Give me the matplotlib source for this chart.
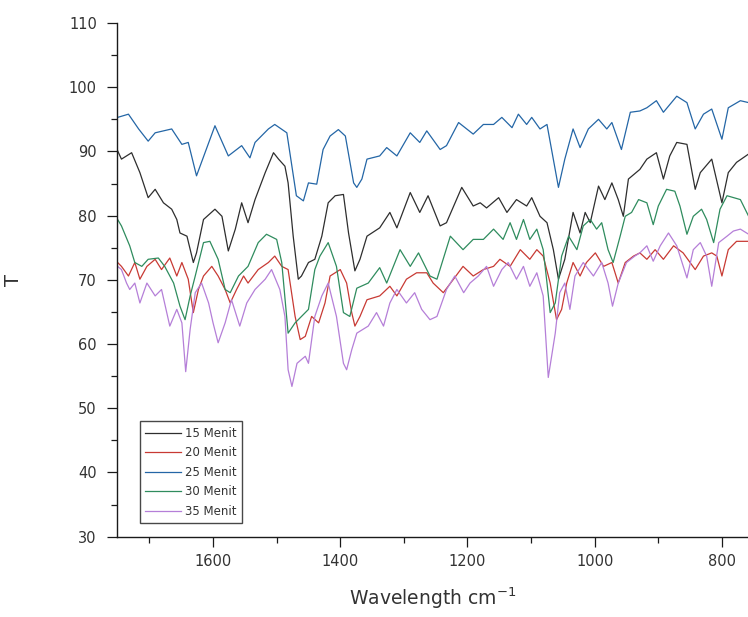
import matplotlib
matplotlib.use("Agg")
import matplotlib.pyplot as plt
from matplotlib.ticker import MultipleLocator

# FTIR transmittance spectra after different treatment times (minutes)
wn_15 = [1750, 1744, 1728, 1715, 1702, 1691, 1678, 1665, 1657, 1652, 1641, 1631, 1626, 1615,
         1597, 1586, 1576, 1565, 1555, 1545, 1534, 1518, 1505, 1497, 1487, 1482, 1474, 1466,
         1461, 1450, 1440, 1429, 1419, 1408, 1395, 1387, 1377, 1369, 1358, 1338, 1322, 1311,
         1290, 1275, 1262, 1243, 1233, 1209, 1191, 1180, 1170, 1151, 1138, 1123, 1107, 1099,
         1086, 1075, 1065, 1057, 1047, 1034, 1023, 1015, 1007, 994, 984, 973, 963, 955, 947,
         929, 918, 903, 892, 882, 871, 855, 842, 834, 816, 800, 790, 777, 758]
t_15 = [90.1, 88.8, 89.8, 86.7, 82.8, 84.1, 82.0, 81.0, 79.4, 77.3, 76.8, 72.7, 74.2, 79.4,
        81.0, 79.9, 74.5, 77.9, 82.0, 78.9, 82.5, 86.7, 89.8, 88.8, 87.7, 85.1, 76.8, 70.1,
        70.6, 72.7, 73.2, 76.8, 82.0, 83.1, 83.3, 77.3, 71.4, 73.2, 76.8, 78.1, 80.5, 78.1,
        83.6, 80.5, 83.1, 78.4, 78.9, 84.4, 81.5, 82.0, 81.2, 82.8, 80.5, 82.5, 81.5, 82.8,
        79.9, 78.9, 74.7, 70.1, 73.2, 80.5, 77.3, 80.5, 78.9, 84.6, 82.5, 85.1, 82.5, 79.9, 85.7,
        87.2, 88.8, 89.8, 85.7, 89.3, 91.4, 91.1, 84.1, 86.7, 88.8, 82.0, 86.7, 88.3, 89.6]

wn_20 = [1750, 1744, 1733, 1723, 1715, 1704, 1691, 1681, 1668, 1657, 1649, 1639, 1631, 1623,
         1615, 1602, 1592, 1581, 1573, 1563, 1552, 1545, 1529, 1513, 1503, 1492, 1482, 1471,
         1463, 1455, 1445, 1434, 1424, 1416, 1400, 1390, 1382, 1377, 1369, 1358, 1338, 1322,
         1311, 1296, 1280, 1264, 1254, 1238, 1222, 1207, 1191, 1175, 1159, 1149, 1133, 1117,
         1102, 1091, 1081, 1070, 1060, 1052, 1044, 1034, 1023, 1013, 999, 986, 973, 963, 952,
         939, 929, 918, 905, 892, 876, 861, 842, 829, 816, 808, 800, 790, 777, 758]
t_20 = [72.7, 72.1, 70.6, 72.7, 70.1, 72.1, 73.2, 71.6, 73.4, 70.6, 72.7, 70.1, 64.9, 68.5,
        70.6, 72.1, 70.6, 68.5, 66.4, 68.5, 70.6, 69.5, 71.6, 72.7, 73.7, 72.1, 71.6, 64.3,
        60.7, 61.2, 64.3, 63.3, 66.4, 70.6, 71.6, 69.5, 64.9, 62.8, 64.3, 66.9, 67.5, 69.0,
        67.5, 70.1, 71.1, 71.1, 69.5, 68.0, 70.1, 72.1, 70.6, 71.6, 72.1, 73.2, 72.1, 74.7,
        73.2, 74.7, 73.7, 69.5, 63.8, 65.4, 69.5, 72.7, 70.6, 72.7, 74.2, 72.1, 72.7, 69.5, 72.7,
        73.7, 74.2, 73.2, 74.7, 73.2, 75.3, 74.2, 71.6, 73.7, 74.2, 73.7, 70.6, 74.7, 76.0, 76.0]

wn_25 = [1750, 1733, 1717, 1702, 1691, 1665, 1649, 1639, 1626, 1597, 1576, 1555, 1542, 1534,
         1513, 1503, 1484, 1469, 1458, 1450, 1437, 1427, 1416, 1403, 1392, 1379, 1374, 1366,
         1358, 1338, 1327, 1311, 1290, 1275, 1264, 1243, 1233, 1214, 1191, 1175, 1159, 1146,
         1130, 1120, 1107, 1099, 1086, 1075, 1057, 1047, 1034, 1023, 1010, 994, 981, 973, 958,
         944, 929, 918, 903, 892, 871, 855, 842, 829, 816, 800, 790, 771, 758]
t_25 = [95.3, 95.8, 93.5, 91.6, 92.9, 93.5, 91.1, 91.4, 86.2, 94.0, 89.3, 90.9, 89.0, 91.4,
        93.5, 94.2, 92.9, 83.1, 82.3, 85.1, 84.9, 90.3, 92.4, 93.4, 92.4, 85.1, 84.4, 85.7,
        88.8, 89.3, 90.6, 89.3, 92.9, 91.4, 93.2, 90.3, 90.9, 94.5, 92.7, 94.2, 94.2, 95.3,
        93.7, 95.8, 94.2, 95.3, 93.5, 94.2, 84.4, 88.8, 93.5, 90.6, 93.5, 95.0, 93.5, 94.5, 90.3,
        96.1, 96.3, 96.8, 97.9, 96.1, 98.6, 97.6, 93.5, 95.8, 96.6, 91.9, 96.8, 97.9, 97.6]

wn_30 = [1750, 1744, 1731, 1723, 1712, 1702, 1686, 1676, 1662, 1652, 1644, 1636, 1628, 1615,
         1605, 1592, 1581, 1573, 1560, 1545, 1529, 1516, 1500, 1492, 1482, 1471, 1461, 1450,
         1440, 1432, 1419, 1406, 1395, 1385, 1374, 1356, 1338, 1327, 1306, 1290, 1277, 1259,
         1248, 1227, 1207, 1191, 1175, 1159, 1144, 1133, 1123, 1112, 1102, 1091, 1081, 1075,
         1070, 1062, 1052, 1041, 1028, 1018, 1007, 997, 989, 979, 971, 960, 952, 942, 931, 918,
         908, 900, 887, 874, 866, 855, 845, 832, 824, 813, 803, 792, 771, 758]
t_30 = [79.4, 78.4, 75.3, 72.7, 72.1, 73.2, 73.4, 72.1, 69.5, 65.9, 63.8, 67.5, 70.6, 75.8,
        76.0, 73.2, 68.5, 68.0, 70.6, 72.1, 75.8, 77.1, 76.3, 72.7, 61.7, 63.3, 64.3, 65.4,
        71.6, 73.7, 75.8, 72.1, 64.9, 64.3, 68.7, 69.5, 71.9, 69.5, 74.7, 72.1, 74.2, 70.6,
        70.1, 76.8, 74.7, 76.3, 76.3, 77.9, 76.3, 78.9, 76.3, 79.4, 76.3, 77.9, 74.7, 69.5,
        64.9, 66.4, 73.7, 76.8, 74.7, 78.4, 79.4, 77.9, 78.9, 74.7, 72.7, 76.8, 79.9, 80.5, 82.5, 82.0,
        78.6, 81.5, 84.1, 83.8, 81.5, 77.1, 79.9, 81.0, 79.4, 75.8, 81.0, 83.1, 82.5, 79.9]

wn_35 = [1750, 1744, 1736, 1731, 1723, 1715, 1704, 1691, 1681, 1668, 1657, 1649, 1643, 1636,
         1628, 1618, 1607, 1600, 1592, 1581, 1571, 1558, 1547, 1534, 1518, 1508, 1495, 1487,
         1482, 1476, 1468, 1455, 1450, 1440, 1429, 1419, 1406, 1395, 1390, 1382, 1374, 1356,
         1343, 1332, 1322, 1311, 1296, 1283, 1272, 1259, 1248, 1233, 1220, 1206, 1196, 1183,
         1170, 1159, 1146, 1136, 1123, 1112, 1102, 1091, 1081, 1073, 1062, 1055, 1047, 1039,
         1031, 1018, 1002, 989, 979, 972, 963, 950, 937, 929, 918, 908, 897, 884, 871, 855, 845,
         834, 824, 816, 805, 792, 782, 771, 758]
t_35 = [72.1, 71.6, 69.5, 68.5, 69.5, 66.4, 69.5, 67.5, 68.5, 62.8, 65.4, 63.3, 55.7, 62.3,
        68.0, 69.5, 66.4, 63.3, 60.2, 63.3, 66.9, 62.8, 66.4, 68.5, 70.1, 71.6, 68.5, 64.3,
        56.0, 53.4, 57.0, 58.1, 57.0, 64.3, 67.5, 69.5, 64.3, 57.0, 56.0, 59.1, 61.7, 62.8,
        64.9, 62.8, 66.4, 68.5, 66.4, 68.0, 65.4, 63.8, 64.3, 68.5, 70.6, 68.0, 69.5, 70.6,
        72.1, 69.0, 71.6, 72.7, 70.1, 72.1, 69.0, 71.1, 67.5, 54.8, 61.7, 68.0, 69.5, 65.4,
        70.6, 72.7, 70.6, 72.7, 69.5, 65.9, 69.5, 72.7, 73.7, 74.2, 75.3, 72.9, 75.3, 77.3, 75.3, 70.3, 74.7,
        75.8, 73.7, 69.0, 75.8, 76.8, 77.6, 77.9, 77.1]

labels = ["15 Menit", "20 Menit", "25 Menit", "30 Menit", "35 Menit"]
colors = ["#2e2e2e", "#c83a34", "#2466a6", "#2f8c5e", "#b57fd8"]

series = [(wn_15, t_15), (wn_20, t_20), (wn_25, t_25), (wn_30, t_30), (wn_35, t_35)]

plt.rcParams["font.family"] = ["DejaVu Sans"]

W, H = 748, 617
fig = plt.figure(figsize=(W / 100, H / 100), dpi=100)
ax = fig.add_axes([117 / W, (H - 536.7) / H, (W - 117) / W, (536.7 - 23) / H])

for (wn, t), lab, c in zip(series, labels, colors):
    ax.plot(wn, t, color=c, lw=0.9, label=lab)

ax.set_xlim(1751, 759)
ax.set_ylim(30, 110)

ax.xaxis.set_major_locator(MultipleLocator(200))
ax.xaxis.set_minor_locator(MultipleLocator(100))
ax.yaxis.set_major_locator(MultipleLocator(10))
ax.yaxis.set_minor_locator(MultipleLocator(5))

for side in ("top", "right"):
    ax.spines[side].set_visible(False)
for side in ("left", "bottom"):
    ax.spines[side].set_linewidth(1.0)
    ax.spines[side].set_color("#1a1a1a")

ax.tick_params(axis="both", which="major", direction="out", length=7.5, width=0.9,
               color="#1a1a1a", labelsize=10.5, labelcolor="#333333")
ax.tick_params(axis="both", which="minor", direction="out", length=4, width=0.9,
               color="#1a1a1a")
ax.tick_params(axis="y", which="major", pad=7)
ax.tick_params(axis="x", which="major", pad=5)

ax.set_xlabel("Wavelength cm$^{-1}$", fontsize=13.5, color="#333333")
ax.xaxis.set_label_coords(0.5, -(598 - 536.7) / (536.7 - 23), transform=ax.transAxes)
ax.xaxis.label.set_va("center")

ax.set_ylabel("T", fontsize=14, color="#333333")
ax.yaxis.set_label_coords((14 - 117) / (W - 117), 0.5, transform=ax.transAxes)
ax.yaxis.label.set_va("center")

leg = ax.legend(loc="lower left", bbox_to_anchor=(0.0365, 0.0267), borderaxespad=0,
                fontsize=8.5, frameon=True, fancybox=False, shadow=False,
                handlelength=3.0, handletextpad=0.4, labelspacing=0.55,
                borderpad=0.45)
leg.get_frame().set_edgecolor("#1a1a1a")
leg.get_frame().set_linewidth(1.0)
for txt in leg.get_texts():
    txt.set_color("#333333")

fig.savefig("out.png", dpi=100)
